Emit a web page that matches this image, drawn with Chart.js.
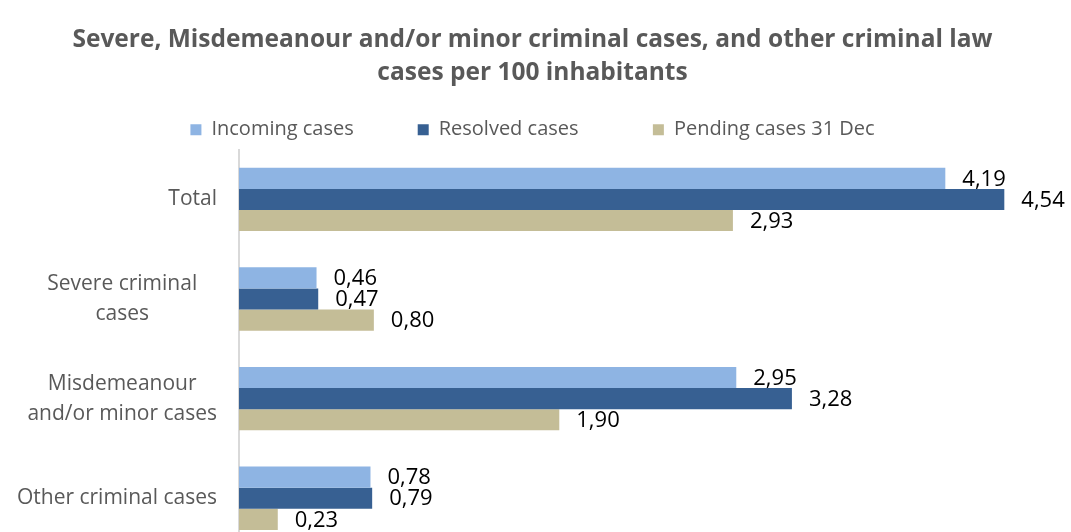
<!DOCTYPE html>
<html>
<head>
<meta charset="utf-8">
<script src="https://cdn.jsdelivr.net/npm/chart.js@4.4.1/dist/chart.umd.min.js"></script>
<style>
  html, body { margin: 0; padding: 0; background: #ffffff; overflow: hidden; }
  #wrap { position: relative; width: 1071px; height: 552px; }
</style>
</head>
<body>
<div id="wrap"><canvas id="chart"></canvas></div>
<script>
// Categories (each entry holds the wrapped lines of its label)
const categories = [
  ["Total"],
  ["Severe criminal", "cases"],
  ["Misdemeanour", "and/or minor cases"],
  ["Other criminal cases"]
];
const seriesNames = ["Incoming cases", "Resolved cases", "Pending cases 31 Dec"];
const incoming = [4.19, 0.46, 2.95, 0.78];
const resolved = [4.54, 0.47, 3.28, 0.79];
const pending  = [2.93, 0.80, 1.90, 0.23];
const seriesColors = ["#8EB4E3", "#376092", "#C4BD97"];

const FONT = "'Open Sans', 'DejaVu Sans', sans-serif";
const GREY = "#595959";

// Value labels drawn just past the end of each bar
const valueLabels = {
  id: "valueLabels",
  afterDatasetsDraw(chart) {
    const ctx = chart.ctx;
    ctx.save();
    ctx.font = "22px " + FONT;
    ctx.fillStyle = "#000000";
    ctx.textAlign = "left";
    ctx.textBaseline = "middle";
    chart.data.datasets.forEach((ds, di) => {
      const meta = chart.getDatasetMeta(di);
      meta.data.forEach((bar, i) => {
        const txt = ds.data[i].toFixed(2).replace(".", ",");
        ctx.fillText(txt, bar.x + 17, bar.y + 1);
      });
    });
    ctx.restore();
  }
};

// Category labels: single lines right-aligned, wrapped labels centred
// within a shared block that ends at the same right edge
const categoryLabels = {
  id: "categoryLabels",
  afterDraw(chart) {
    const ctx = chart.ctx;
    const yScale = chart.scales.y;
    const rightEdge = chart.chartArea.left - 22;
    const lineH = 30;
    ctx.save();
    ctx.font = "21px " + FONT;
    ctx.fillStyle = GREY;
    ctx.textBaseline = "middle";
    let blockW = 0;
    categories.forEach(lines => {
      if (lines.length > 1) {
        lines.forEach(l => { blockW = Math.max(blockW, ctx.measureText(l).width); });
      }
    });
    categories.forEach((lines, i) => {
      const cy = yScale.getPixelForValue(i);
      if (lines.length === 1) {
        ctx.textAlign = "right";
        ctx.fillText(lines[0], rightEdge, cy);
      } else {
        ctx.textAlign = "center";
        const cx = rightEdge - blockW / 2;
        const y0 = cy - (lines.length - 1) * lineH / 2;
        lines.forEach((l, k) => ctx.fillText(l, cx, y0 + k * lineH));
      }
    });
    ctx.restore();
  }
};

// Wider spacing between legend entries
const legendGaps = ["\u00A0".repeat(10), "\u00A0".repeat(12), ""];

new Chart(document.getElementById("chart"), {
  type: "bar",
  data: {
    labels: categories.map(c => c.join(" ")),
    datasets: [
      { label: seriesNames[0], data: incoming, backgroundColor: seriesColors[0] },
      { label: seriesNames[1], data: resolved, backgroundColor: seriesColors[1] },
      { label: seriesNames[2], data: pending,  backgroundColor: seriesColors[2] }
    ]
  },
  options: {
    indexAxis: "y",
    responsive: true,
    maintainAspectRatio: false,
    animation: false,
    datasets: {
      bar: { barPercentage: 1.0, categoryPercentage: 0.636, borderWidth: 0 }
    },
    layout: { padding: { left: 0, right: 6, top: 0, bottom: 4 } },
    scales: {
      x: {
        display: false,
        min: 0,
        max: 4.9
      },
      y: {
        display: true,
        grid: { display: false },
        ticks: { display: false },
        border: { display: true, color: "#d9d9d9", width: 2 },
        afterFit(scale) { scale.width = 239; }
      }
    },
    plugins: {
      title: {
        display: true,
        text: [
          "Severe, Misdemeanour and/or minor criminal cases, and other criminal law",
          "cases per 100 inhabitants"
        ],
        color: GREY,
        font: { family: FONT, size: 24.5, weight: "bold", lineHeight: 1.35 },
        padding: { top: 23.5, bottom: 18 }
      },
      legend: {
        display: true,
        position: "top",
        labels: {
          color: GREY,
          font: { family: FONT, size: 20 },
          boxWidth: 11,
          boxHeight: 11,
          padding: 12,
          generateLabels(chart) {
            const items = Chart.defaults.plugins.legend.labels.generateLabels(chart);
            items.forEach((it, i) => { it.text = it.text + legendGaps[i]; });
            return items;
          }
        }
      },
      tooltip: { enabled: false }
    }
  },
  plugins: [valueLabels, categoryLabels]
});
</script>
</body>
</html>
